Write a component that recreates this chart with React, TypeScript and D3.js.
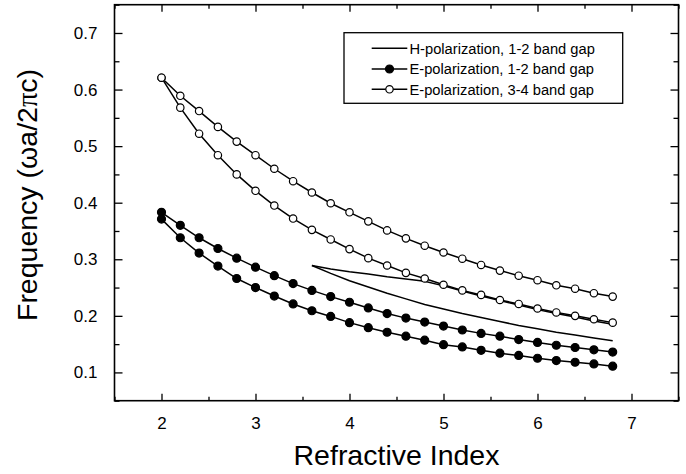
import { useRef, useEffect } from 'react';
import * as d3 from 'd3';

// refractive index sampling
const N_E = [2.0, 2.2, 2.4, 2.6, 2.8, 3.0, 3.2, 3.4, 3.6, 3.8, 4.0, 4.2, 4.4, 4.6, 4.8, 5.0, 5.2, 5.4, 5.6, 5.8, 6.0, 6.2, 6.4, 6.6, 6.8];
const N_H = [3.6, 3.8, 4.0, 4.2, 4.4, 4.6, 4.8, 5.0, 5.2, 5.4, 5.6, 5.8, 6.0, 6.2, 6.4, 6.6, 6.8];

// E-polarization, 3-4 band gap (upper / lower edge)
const E34_TOP = [0.621, 0.589, 0.562, 0.534, 0.508, 0.484, 0.460, 0.438, 0.418, 0.399, 0.383, 0.367, 0.351, 0.337, 0.324, 0.312, 0.301, 0.290, 0.280, 0.271, 0.263, 0.254, 0.248, 0.240, 0.234];
const E34_BOT = [0.621, 0.568, 0.522, 0.484, 0.450, 0.421, 0.395, 0.372, 0.352, 0.335, 0.318, 0.302, 0.289, 0.276, 0.266, 0.255, 0.245, 0.237, 0.228, 0.221, 0.213, 0.206, 0.200, 0.194, 0.188];

// E-polarization, 1-2 band gap
const E12_TOP = [0.383, 0.360, 0.338, 0.319, 0.302, 0.286, 0.271, 0.257, 0.245, 0.234, 0.224, 0.214, 0.204, 0.196, 0.189, 0.182, 0.175, 0.169, 0.164, 0.158, 0.153, 0.148, 0.144, 0.140, 0.136];
const E12_BOT = [0.371, 0.338, 0.311, 0.288, 0.266, 0.250, 0.235, 0.221, 0.209, 0.199, 0.188, 0.179, 0.171, 0.164, 0.157, 0.149, 0.145, 0.139, 0.134, 0.130, 0.125, 0.121, 0.118, 0.115, 0.111];

// H-polarization, 1-2 band gap
const H12_TOP = [0.289, 0.283, 0.278, 0.274, 0.269, 0.265, 0.261, 0.253, 0.244, 0.235, 0.227, 0.219, 0.211, 0.204, 0.198, 0.191, 0.185];
const H12_BOT = [0.289, 0.275, 0.262, 0.251, 0.240, 0.230, 0.220, 0.212, 0.204, 0.197, 0.190, 0.183, 0.177, 0.171, 0.166, 0.161, 0.156];

const X_TICKS = [2, 3, 4, 5, 6, 7];
const Y_TICKS = [0.1, 0.2, 0.3, 0.4, 0.5, 0.6, 0.7];
const LEGEND = ['H-polarization, 1-2 band gap', 'E-polarization, 1-2 band gap', 'E-polarization, 3-4 band gap'];

const FONT = '"Liberation Sans", Arial, sans-serif';

export default function App() {
  const svgRef = useRef<SVGSVGElement>(null);
  const width = 686;
  const height = 474;

  useEffect(() => {
    const svg = d3.select(svgRef.current);
    svg.selectAll('*').remove();

    const left = 114.5, right = 678.5, top = 4.7, bottom = 400.7;

    const x = d3.scaleLinear().domain([1.5, 7.5]).range([left, right]);
    const y = d3.scaleLinear().domain([0.05, 0.75]).range([bottom, top]);

    const xMinor = d3.range(1.5, 7.6, 0.5).filter((v) => !X_TICKS.includes(v));
    const yMinor = [0.05, 0.15, 0.25, 0.35, 0.45, 0.55, 0.65, 0.75];

    const styleAxis = (g: any, labels: boolean) => {
      g.select('.domain').remove();
      g.selectAll('line').attr('stroke', '#000').attr('stroke-width', 1.3);
      if (labels) {
        g.selectAll('text').attr('fill', '#000').style('font-family', FONT).style('font-size', '17px');
      } else {
        g.selectAll('text').remove();
      }
    };

    // bottom
    svg.append('g').attr('transform', `translate(0,${bottom})`)
      .call(d3.axisBottom(x).tickValues(X_TICKS).tickSizeInner(-7).tickSizeOuter(0).tickPadding(16).tickFormat(d3.format('d')))
      .call((g) => styleAxis(g, true));
    svg.append('g').attr('transform', `translate(0,${bottom})`)
      .call(d3.axisBottom(x).tickValues(xMinor).tickSizeInner(-4).tickSizeOuter(0).tickFormat(() => ''))
      .call((g) => styleAxis(g, false));
    // top
    svg.append('g').attr('transform', `translate(0,${top})`)
      .call(d3.axisTop(x).tickValues(X_TICKS).tickSizeInner(-7).tickSizeOuter(0))
      .call((g) => styleAxis(g, false));
    svg.append('g').attr('transform', `translate(0,${top})`)
      .call(d3.axisTop(x).tickValues(xMinor).tickSizeInner(-4).tickSizeOuter(0))
      .call((g) => styleAxis(g, false));
    // left
    svg.append('g').attr('transform', `translate(${left},0)`)
      .call(d3.axisLeft(y).tickValues(Y_TICKS).tickSizeInner(-8).tickSizeOuter(0).tickPadding(17).tickFormat(d3.format('.1f')))
      .call((g) => styleAxis(g, true));
    svg.append('g').attr('transform', `translate(${left},0)`)
      .call(d3.axisLeft(y).tickValues(yMinor).tickSizeInner(-5).tickSizeOuter(0))
      .call((g) => styleAxis(g, false));
    // right
    svg.append('g').attr('transform', `translate(${right},0)`)
      .call(d3.axisRight(y).tickValues(Y_TICKS).tickSizeInner(-8).tickSizeOuter(0))
      .call((g) => styleAxis(g, false));
    svg.append('g').attr('transform', `translate(${right},0)`)
      .call(d3.axisRight(y).tickValues(yMinor).tickSizeInner(-5).tickSizeOuter(0))
      .call((g) => styleAxis(g, false));

    // frame
    svg.append('rect')
      .attr('x', left).attr('y', top)
      .attr('width', right - left).attr('height', bottom - top)
      .attr('fill', 'none').attr('stroke', '#000').attr('stroke-width', 1.6);

    const line = d3.line<[number, number]>().x((d) => x(d[0])).y((d) => y(d[1]));
    const drawLine = (xs: number[], ys: number[]) => {
      svg.append('path')
        .attr('d', line(xs.map((v, i) => [v, ys[i]] as [number, number])))
        .attr('fill', 'none').attr('stroke', '#000').attr('stroke-width', 1.5);
    };
    const drawDots = (xs: number[], ys: number[], fill: string) => {
      svg.append('g').selectAll('circle')
        .data(xs.map((v, i) => [v, ys[i]]))
        .join('circle')
        .attr('cx', (d) => x(d[0])).attr('cy', (d) => y(d[1]))
        .attr('r', fill === '#000' ? 4 : 3.7)
        .attr('fill', fill).attr('stroke', '#000').attr('stroke-width', 1.2);
    };

    drawLine(N_H, H12_TOP);
    drawLine(N_H, H12_BOT);
    drawLine(N_E, E12_TOP);
    drawLine(N_E, E12_BOT);
    drawLine(N_E, E34_TOP);
    drawLine(N_E, E34_BOT);
    drawDots(N_E, E12_TOP, '#000');
    drawDots(N_E, E12_BOT, '#000');
    drawDots(N_E, E34_BOT, '#fff');
    drawDots(N_E, E34_TOP, '#fff');

    // legend
    const lg = svg.append('g');
    lg.append('rect')
      .attr('x', 344).attr('y', 32.7).attr('width', 278.7).attr('height', 70.6)
      .attr('fill', '#fff').attr('stroke', '#000').attr('stroke-width', 1.3);
    const rowY = [48.3, 69, 89.3];
    LEGEND.forEach((label, i) => {
      lg.append('line')
        .attr('x1', 371.7).attr('x2', 407.3).attr('y1', rowY[i]).attr('y2', rowY[i])
        .attr('stroke', '#000').attr('stroke-width', 1.5);
      if (i > 0) {
        lg.append('circle')
          .attr('cx', 389.5).attr('cy', rowY[i]).attr('r', i === 1 ? 4 : 3.7)
          .attr('fill', i === 1 ? '#000' : '#fff').attr('stroke', '#000').attr('stroke-width', 1.2);
      }
      lg.append('text')
        .attr('x', 409.5).attr('y', rowY[i]).attr('dy', '0.36em')
        .style('font-family', FONT).style('font-size', '14.7px')
        .text(label);
    });

    // axis titles
    svg.append('text')
      .attr('x', (left + right) / 2).attr('y', 465)
      .attr('text-anchor', 'middle')
      .style('font-family', FONT).style('font-size', '28.5px')
      .text('Refractive Index');

    const yt = svg.append('text')
      .attr('transform', 'translate(36.5,195) rotate(-90)')
      .attr('text-anchor', 'middle')
      .style('font-family', FONT).style('font-size', '28.5px');
    yt.append('tspan').text('Frequency (ωa/2');
    yt.append('tspan').style('font-family', '"Liberation Serif", serif').text('π');
    yt.append('tspan').text('c)');
  }, []);

  return (
    <svg
      ref={svgRef}
      width={width}
      height={height}
      style={{ position: 'absolute', left: 0, top: 0, background: '#fff' }}
    />
  );
}
